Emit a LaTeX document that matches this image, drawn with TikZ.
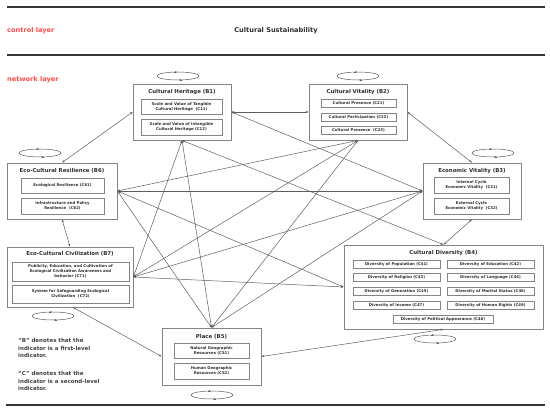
\documentclass[tikz,border=0pt]{standalone}
\usepackage{fontspec}
\setmainfont{DejaVu Sans}
\usetikzlibrary{arrows.meta}
\definecolor{boxgray}{HTML}{848484}
\definecolor{linegray}{HTML}{5E5E5E}
\definecolor{txt}{HTML}{2E2E2E}
\definecolor{redlab}{HTML}{FF4A4A}
\definecolor{rulec}{HTML}{333333}
\begin{document}
\begin{tikzpicture}[x=1pt,y=-1pt,
  bigbox/.style 2 args={draw=boxgray,line width=0.75pt,inner sep=0pt,minimum width=#1,minimum height=#2},
  smallbox/.style 2 args={draw=boxgray,line width=0.55pt,inner sep=0pt,minimum width=#1,minimum height=#2,
     align=center,text=txt,font=\fontsize{3.85}{5}\selectfont\bfseries},
  btitle/.style={text=txt,inner sep=0pt,font=\fontsize{5.4}{6}\selectfont\bfseries},
  layerlab/.style={text=redlab,inner sep=0pt,anchor=west,font=\fontsize{6.6}{7}\selectfont\bfseries},
  rulest/.style={draw=rulec,line width=1.5pt},
  conn/.style={draw=linegray,line width=0.5pt,{Stealth[length=3pt,width=2.2pt]}-{Stealth[length=3pt,width=2.2pt]}},
  loopst/.style={draw=linegray,line width=0.5pt},
  looparr/.style={draw=linegray,line width=0.4pt,-{Stealth[length=2pt,width=1.8pt]}}
]
\useasboundingbox (0,0) rectangle (550,412);

% rules
\coordinate (r1a) at (7,7);   \coordinate (r1b) at (545,7);
\coordinate (r2a) at (7,55);  \coordinate (r2b) at (545,55);
\coordinate (r3a) at (6,405); \coordinate (r3b) at (545,405);
\draw[rulest] (r1a) -- (r1b);
\draw[rulest] (r2a) -- (r2b);
\draw[rulest] (r3a) -- (r3b);

\node[layerlab] (ctl) at (7,31) {control layer};
\node[layerlab] (net) at (7,80) {network layer};
\node[text=txt,inner sep=0pt,font=\fontsize{6.6}{7}\selectfont\bfseries] (cs) at (276,31) {Cultural Sustainability};

% big boxes
\node[bigbox={98pt}{56pt}] (B1) at (182,112) {};
\node[bigbox={98pt}{56pt}] (B2) at (358,112) {};
\node[bigbox={98pt}{56pt}] (B3) at (472,191) {};
\node[bigbox={110pt}{56pt}] (B6) at (62,191) {};
\node[bigbox={126pt}{60pt}] (B7) at (70,277) {};
\node[bigbox={99pt}{57pt}] (B5) at (211.5,356.5) {};
\node[bigbox={199pt}{84pt}] (B4) at (443.5,287) {};

% titles
\node[btitle] (tB1) at (182,92) {Cultural Heritage (B1)};
\node[btitle] (tB2) at (358,92) {Cultural Vitality (B2)};
\node[btitle] (tB3) at (472,171) {Economic Vitality (B3)};
\node[btitle] (tB6) at (62,171) {Eco-Cultural Resilience (B6)};
\node[btitle] (tB7) at (70,254) {Eco-Cultural Civilization (B7)};
\node[btitle] (tB5) at (211.5,337) {Place (B5)};
\node[btitle] (tB4) at (443.5,253) {Cultural Diversity (B4)};

% inner boxes
\node[smallbox={81pt}{15pt}] (C11) at (181.5,106.5) {Scale and Value of Tangible\\Cultural Heritage\ \ (C11)};
\node[smallbox={81pt}{16pt}] (C12) at (181.5,127) {Scale and Value of Intangible\\Cultural Heritage (C12)};

\node[smallbox={75pt}{7.5pt}] (C21) at (358.5,103.5) {Cultural Presence (C21)};
\node[smallbox={75pt}{7.5pt}] (C22) at (358.5,117.5) {Cultural Participation (C22)};
\node[smallbox={75pt}{7.5pt}] (C23) at (358.5,130.5) {Cultural Presence\ \ (C23)};

\node[smallbox={75pt}{16pt}] (C31) at (471.5,185) {Internal Cycle\\Economic Vitality\ \ (C31)};
\node[smallbox={75pt}{16pt}] (C32) at (471.5,206) {External Cycle\\Economic Vitality\ \ (C32)};

\node[smallbox={83pt}{15pt}] (C61) at (62.5,185.5) {Ecological Resilience (C61)};
\node[smallbox={83pt}{16pt}] (C62) at (62.5,206) {Infrastructure and Policy\\Resilience\ \ (C62)};

\node[smallbox={117pt}{19pt}] (C71) at (70.5,271.5) {Publicity, Education, and Cultivation of\\Ecological Civilization Awareness and\\behavior (C71)};
\node[smallbox={117pt}{18pt}] (C72) at (70.5,294) {System for Safeguarding Ecological\\Civilization\ \ (C72)};

\node[smallbox={75pt}{15pt}] (C51) at (211.5,350.5) {Natural Geographic\\Resources (C51)};
\node[smallbox={75pt}{16pt}] (C52) at (211.5,371) {Human Geographic\\Resources (C52)};

\node[smallbox={87pt}{8pt}] (C41) at (396.5,264) {Diversity of Population (C41)};
\node[smallbox={87pt}{8pt}] (C42) at (490.5,264) {Diversity of Education (C42)};
\node[smallbox={87pt}{8pt}] (C43) at (396.5,277.5) {Diversity of Religion (C43)};
\node[smallbox={87pt}{8pt}] (C44) at (490.5,277.5) {Diversity of Language (C44)};
\node[smallbox={87pt}{8pt}] (C45) at (396.5,291) {Diversity of Generation (C45)};
\node[smallbox={87pt}{8pt}] (C46) at (490.5,291) {Diversity of Marital Status (C46)};
\node[smallbox={87pt}{8pt}] (C47) at (396.5,305) {Diversity of Income (C47)};
\node[smallbox={87pt}{8pt}] (C49) at (490.5,305) {Diversity of Human Rights (C49)};
\node[smallbox={100pt}{8pt}] (C48) at (443,319) {Diversity of Political Appearance (C48)};

% self loops
\foreach \cx/\cy in {178/76, 358/76, 493/153, 40/153, 53/316, 212/395, 435/339}{
  \draw[loopst] (\cx,\cy) ellipse [x radius=21pt, y radius=4pt];
  \draw[looparr] (\cx-4,\cy-4) -- (\cx-1,\cy-4);
  \draw[looparr] (\cx+4,\cy+4) -- (\cx+1,\cy+4);
}

% ring connectors
\draw[conn] (B1.west) -- (B6.north);
\draw[conn] (B1.east) -- (B2.west);
\draw[conn] (B2.east) -- (B3.north);
\draw[conn] (B3.south) -- (B4.north);
\draw[conn] (B4.south) -- (B5.east);
\draw[conn] (B5.west) -- ([xshift=3pt]B7.south);
\draw[conn] (B7.north) -- (B6.south);

% cross connectors
\draw[conn] (B1.east) -- (B3.west);
\draw[conn] (B1.south) -- (B4.north);
\draw[conn] (B1.south) -- (B5.north);
\draw[conn] (B1.south) -- (B7.east);
\draw[conn] (B2.south) -- (B5.north);
\draw[conn] (B2.south) -- (B6.east);
\draw[conn] (B2.south) -- (B7.east);
\draw[conn] (B3.west) -- (B5.north);
\draw[conn] (B3.west) -- (B6.east);
\draw[conn] (B3.west) -- (B7.east);
\draw[conn] (B4.west) -- (B6.east);
\draw[conn] (B4.west) -- (B7.east);
\draw[conn] (B5.north) -- (B6.east);

% legend
\node[anchor=north west,align=left,inner sep=0pt,text=txt!90!white,font=\fontsize{5.5}{7.7}\selectfont\bfseries] (leg) at (18,338)
 {“B” denotes that the\\indicator is a first-level\\indicator.\\[10pt]“C” denotes that the\\indicator is a second-level\\indicator.};
\end{tikzpicture}
\end{document}
